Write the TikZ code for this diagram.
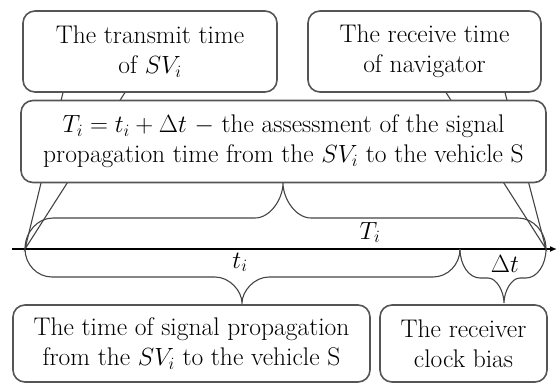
\documentclass[tikz,border=0pt]{standalone}
\usetikzlibrary{arrows.meta}
\definecolor{boxgray}{HTML}{555555}
\definecolor{linegray}{HTML}{444444}
\newcommand\mymath[1]{{\fontsize{23.5}{30}\selectfont$#1$}}
\begin{document}
\begin{tikzpicture}[x=1pt,y=-1pt,
  callbox/.style={draw=boxgray, line width=1.6pt, rounded corners=12pt, fill=white,
    align=center, inner sep=0pt, font=\fontsize{25.5}{30}\selectfont},
  thinline/.style={draw=linegray, line width=1.1pt},
  axisline/.style={draw=black, line width=2pt, -{Latex[length=7pt,width=6pt]}},
  axlabel/.style={font=\fontsize{23}{26}\selectfont, inner sep=0pt, anchor=base}]
\useasboundingbox (0,0) rectangle (558,383);
% end points on the axis
\coordinate (L) at (25,249);
\coordinate (M) at (460,249);
\coordinate (R) at (546,249);
\coordinate (A0) at (12,249);
\coordinate (A1) at (557,249);
% top callouts
\node[callbox, minimum width=254pt, minimum height=81pt] (tl) at (150,51.5)
  {The transmit time\\of \mymath{SV_i}};
\node[callbox, minimum width=233pt, minimum height=81pt] (tr) at (424.5,51.5)
  {The receive time\\of navigator};
\coordinate (tla) at (63,92.5);
\coordinate (tlb) at (125,92.5);
\coordinate (tra) at (446,92.5);
\coordinate (trb) at (505,92.5);
\fill[white] ([yshift=-1.2pt]tla) -- (L) -- ([yshift=-1.2pt]tlb) -- cycle;
\fill[white] ([yshift=-1.2pt]tra) -- (R) -- ([yshift=-1.2pt]trb) -- cycle;
\draw[thinline] (tla) -- (L) -- (tlb);
\draw[thinline] (tra) -- (R) -- (trb);
% middle box
\node[callbox, minimum width=525pt, minimum height=82pt] (mid) at (283.5,141.5)
  {\mymath{T_i = t_i + \Delta t} \mymath{-} the assessment of the signal\\propagation time from the \mymath{SV_i} to the vehicle S};
% axis
\draw[axisline] (A0) -- (A1);
% upper brace T_i
\draw[thinline] (L) .. controls (25,232) and (37.6,218) .. (53,218) -- (255,218)
  .. controls (270.4,218) and (283,198.75) .. (283,183)
  .. controls (283,198.75) and (295.6,218) .. (311,218) -- (518,218)
  .. controls (533.4,218) and (546,232) .. (R);
% lower brace t_i
\draw[thinline] (L) .. controls (25,264.4) and (37.15,277) .. (52,277) -- (215,277)
  .. controls (229.85,277) and (242,291.3) .. (242,303)
  .. controls (242,291.3) and (254.15,277) .. (269,277) -- (433,277)
  .. controls (447.85,277) and (460,264.4) .. (M);
% lower brace Delta t
\draw[thinline] (M) .. controls (460,265) and (469,278) .. (480,278) -- (488,278)
  .. controls (496.8,278) and (504,291.75) .. (504,303)
  .. controls (504,291.75) and (511.2,278) .. (520,278) -- (526,278)
  .. controls (537,278) and (546,265) .. (R);
% labels
\node[axlabel] (Ti) at (370,239) {$T_i$};
\node[axlabel] (ti) at (240,268) {$t_i$};
\node[axlabel] (dt) at (505,272) {$\Delta t$};
% bottom boxes
\node[callbox, minimum width=357pt, minimum height=77pt] (bl) at (191.5,343.5)
  {The time of signal propagation\\from the \mymath{SV_i} to the vehicle S};
\node[callbox, minimum width=167pt, minimum height=77pt] (br) at (463.5,343.5)
  {The receiver\\clock bias};
\end{tikzpicture}
\end{document}
